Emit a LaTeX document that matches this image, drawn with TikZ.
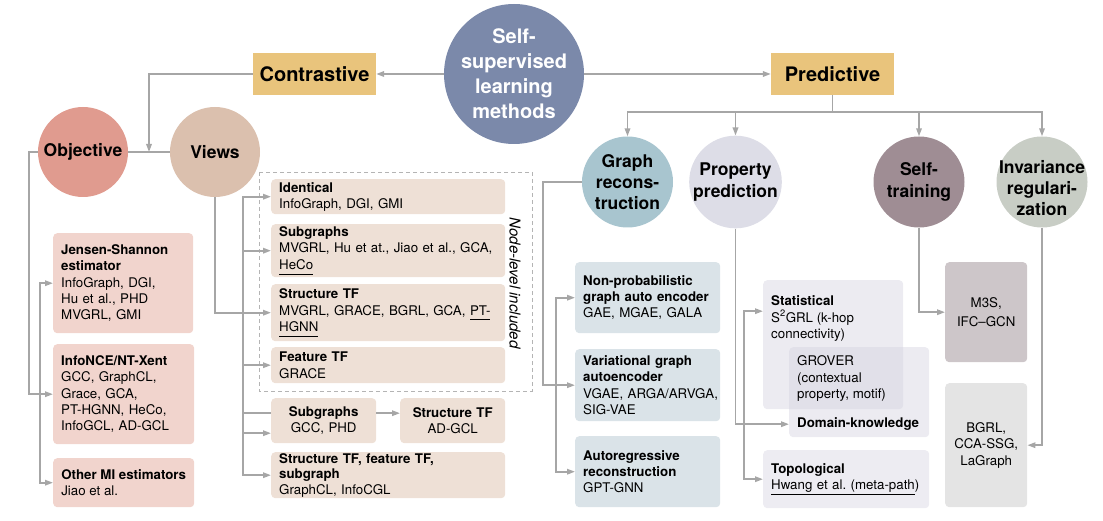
\documentclass[tikz,border=0pt]{standalone}
\usepackage{fontspec}
\setmainfont{TeX Gyre Heros}
\usetikzlibrary{arrows.meta,calc}
\newcommand{\myul}[1]{\underline{#1\vphantom{p}}}
\definecolor{cmain}{HTML}{7B89AA}
\definecolor{gold}{HTML}{E9C47C}
\definecolor{cobj}{HTML}{E09B8F}
\definecolor{cviews}{HTML}{DBC0AE}
\definecolor{cobox}{HTML}{F1D4CD}
\definecolor{cvbox}{HTML}{EEE0D6}
\definecolor{cgr}{HTML}{A8C5CF}
\definecolor{cpp}{HTML}{DDDDE7}
\definecolor{cst}{HTML}{9F8D94}
\definecolor{cinv}{HTML}{C8CDC5}
\definecolor{cgrbox}{HTML}{DAE3E8}
\definecolor{cppbox}{HTML}{EDECF2}
\definecolor{cppov}{HTML}{D4D2DF}
\definecolor{cm3s}{HTML}{CDC6C9}
\definecolor{cbgrl}{HTML}{E4E4E4}
\definecolor{lc}{HTML}{A6A6A6}
\definecolor{dashc}{HTML}{B4B4B4}
\begin{document}
\begin{tikzpicture}[x=1pt,y=-1pt,
  ln/.style={draw=lc, line width=1.7pt},
  arr/.style={ln, -{Triangle[length=8pt,width=5.5pt]}},
  arrtwo/.style={ln, {Triangle[length=8pt,width=5.5pt]}-{Triangle[length=8pt,width=5.5pt]}},
  circ/.style={circle, inner sep=0pt, align=center, font=\fontsize{17.5}{21.3}\selectfont\bfseries},
  cat/.style={rectangle, fill=gold, minimum width=123pt, minimum height=42pt, inner sep=0pt, font=\fontsize{20}{24}\selectfont\bfseries},
  box/.style={rectangle, rounded corners=4pt, anchor=north west, inner xsep=8pt, inner ysep=0pt, align=left, font=\fontsize{13.3}{16.3}\selectfont},
  cbox/.style={box, align=center},
  txt/.style={inner sep=0pt, align=left, font=\fontsize{13.3}{16.3}\selectfont}
]
\useasboundingbox (0,0) rectangle (1103,521);

% top level
\node[circ, fill=cmain, minimum size=140pt, text=white, font=\fontsize{20}{25}\selectfont\bfseries] (ssl) at (514,74) {Self-\\supervised\\learning\\methods};
\node[cat] (con) at (314.5,74) {Contrastive};
\node[cat] (pred) at (832.5,74) {Predictive};

% contrastive circles
\node[circ, fill=cobj, minimum size=90pt] (obj) at (83,152) {Objective};
\node[circ, fill=cviews, minimum size=90pt] (views) at (215,152) {Views};

% objective boxes
\node[box, fill=cobox, minimum width=140pt, text width=124pt, minimum height=100pt] (js) at (53,233)
  {\textbf{Jensen-Shannon}\\\textbf{estimator}\\InfoGraph, DGI,\\Hu et al., PHD\\MVGRL, GMI};
\node[box, fill=cobox, minimum width=141pt, text width=125pt, minimum height=100pt] (nce) at (53,344)
  {\textbf{InfoNCE/NT-Xent}\\GCC, GraphCL,\\Grace, GCA,\\PT-HGNN, HeCo,\\InfoGCL, AD-GCL};
\node[box, fill=cobox, inner xsep=5pt, minimum width=141pt, minimum height=49pt] (oth) at (53,458)
  {\textbf{Other MI estimators}\\Jiao et al.};

% views boxes
\draw[dashc, dashed, dash pattern=on 4pt off 3pt, line width=0.9pt] (259,172) rectangle (532,391);
\node[rotate=-90, inner sep=0pt, font=\fontsize{15}{18}\selectfont\itshape] (nli) at (515,283) {Node-level included};
\node[box, fill=cvbox, minimum width=234pt, text width=218pt, minimum height=35pt] (ident) at (271,179)
  {\textbf{Identical}\\InfoGraph, DGI, GMI};
\node[box, fill=cvbox, minimum width=234pt, text width=218pt, minimum height=53pt] (sub1) at (271,224)
  {\textbf{Subgraphs}\\MVGRL, Hu et at., Jiao et al., GCA,\\[1pt]\myul{HeCo}};
\node[box, fill=cvbox, minimum width=234pt, text width=218pt, minimum height=57pt] (stf) at (271,284)
  {\textbf{Structure TF}\\MVGRL, GRACE, BGRL, GCA, \myul{PT-}\\\myul{HGNN}};
\node[box, fill=cvbox, minimum width=234pt, text width=218pt, minimum height=36pt] (ftf) at (271,347)
  {\textbf{Feature TF}\\GRACE};
\node[cbox, fill=cvbox, minimum width=105pt, text width=89pt, minimum height=45pt] (gcc) at (271,398)
  {\textbf{Subgraphs}\\GCC, PHD};
\node[cbox, fill=cvbox, minimum width=105pt, text width=89pt, minimum height=45pt] (adgcl) at (400,398)
  {\textbf{Structure TF}\\AD-GCL};
\node[box, fill=cvbox, minimum width=234pt, text width=218pt, minimum height=46pt, font=\fontsize{13.3}{15.5}\selectfont] (stfs) at (271,452)
  {\textbf{Structure TF, feature TF,}\\\textbf{subgraph}\\GraphCL, InfoCGL};

% predictive circles
\node[circ, fill=cgr, minimum size=91pt] (gr) at (627.5,182) {Graph\\recons-\\truction};
\node[circ, fill=cpp, minimum size=91pt] (pp) at (735.5,182) {Property\\prediction};
\node[circ, fill=cst, minimum size=91pt] (st) at (919,182) {Self-\\training};
\node[circ, fill=cinv, minimum size=91pt] (inv) at (1042,182) {};
\node[circ] (invt) at (1042,188) {Invariance\\regulari-\\zation};

% graph reconstruction boxes
\node[box, fill=cgrbox, minimum width=145pt, text width=129pt, minimum height=71pt] (np) at (575,262)
  {\textbf{Non-probabilistic}\\\textbf{graph auto encoder}\\GAE, MGAE, GALA};
\node[box, fill=cgrbox, minimum width=145pt, text width=129pt, minimum height=72pt] (var) at (575,349)
  {\textbf{Variational graph}\\\textbf{autoencoder}\\VGAE,~ARGA/ARVGA,\\SIG-VAE};
\node[box, fill=cgrbox, minimum width=145pt, text width=129pt, minimum height=71pt] (ar) at (575,436)
  {\textbf{Autoregressive}\\\textbf{reconstruction}\\GPT-GNN};

% property prediction boxes
\node[rectangle, rounded corners=4pt, anchor=north west, fill=cppov, fill opacity=0.45, minimum width=140pt, minimum height=129pt, inner sep=0pt] (stat) at (763,280) {};
\node[rectangle, rounded corners=4pt, anchor=north west, fill=cppov, fill opacity=0.45, minimum width=140pt, minimum height=90pt, inner sep=0pt] (dk) at (789,347) {};
\node[txt, anchor=west] (statt) at (771,318.5) {\textbf{Statistical}\\S\textsuperscript{2}GRL (k-hop\\connectivity)};
\node[txt, anchor=west] (grov) at (797,378.5) {GROVER\\(contextual\\property, motif)};
\node[txt, anchor=west] (dkt) at (797,424) {\textbf{Domain-knowledge}};
\node[box, fill=cppbox, minimum width=166pt, text width=150pt, minimum height=58pt] (topo) at (763,450)
  {\textbf{Topological}\\\myul{Hwang et al.\ (meta-path})};

% self-training / invariance boxes
\node[cbox, fill=cm3s, minimum width=82pt, text width=72pt, inner xsep=5pt, minimum height=100pt, font=\fontsize{13.3}{19}\selectfont] (m3s) at (945,262) {M3S,\\IFC–GCN};
\node[cbox, fill=cbgrl, minimum width=82pt, text width=72pt, inner xsep=5pt, minimum height=124pt] (bgrl) at (945,383) {BGRL,\\CCA-SSG,\\LaGraph};

% connectors: top
\draw[arr] (ssl) -- (con);
\draw[arr] (ssl) -- (pred);
\coordinate (cj) at ($(obj.east)!0.5!(views.west)$);
\draw[ln] (obj) -- (views);
\draw[arr] (con.west) -| (cj);

% objective
\draw[arr] (obj.west) -- ++(-9,0) |- (nce.west);
\draw[arrtwo] (js.west) -- ++(-13,0) |- (oth.west);

% views
\draw[arr] (views.south) |- (stf.west);
\coordinate (vt) at ($(ident.west)+(-28,0)$);
\draw[arrtwo] (ident.west) -- (vt) |- (stfs.west);
\draw[arr] (vt |- sub1.west) -- (sub1.west);
\draw[arr] (vt |- ftf.west) -- (ftf.west);
\draw[ln] ($(vt |- gcc.west)+(0,-7.5)$) -- ($(gcc.west)+(0,-7.5)$);
\draw[arr] ($(vt |- gcc.west)+(0,12.5)$) -- ($(gcc.west)+(0,12.5)$);
\draw[arr] ($(gcc.east)+(0,-7.5)$) -- ($(adgcl.west)+(0,-7.5)$);

% predictive
\draw[arr] (pred.south) -- ++(0,17) -| (gr.north);
\draw[arr] (pred.south) -- ++(0,17) -| (pp.north);
\draw[arr] (pred.south) -- ++(0,17) -| (st.north);
\draw[arr] (pred.south) -- ++(0,17) -| (inv.north);

% graph reconstruction
\draw[arr] (gr.west) -- ++(-39,0) |- (var.west);
\draw[arrtwo] (np.west) -- ++(-19,0) |- (ar.west);

% property prediction
\coordinate (dka) at ($(dk.west)+(0,32)$);
\draw[arr] (pp.south) |- (dka);
\coordinate (sta) at ($(stat.west)+(0,-33.5)$);
\draw[arrtwo] (sta) -- ++(-19,0) |- (topo.west);

% self-training, invariance
\draw[arr] (st.south) |- (m3s.west);
\draw[arr] (inv.south) |- (bgrl.east);
\end{tikzpicture}
\end{document}
